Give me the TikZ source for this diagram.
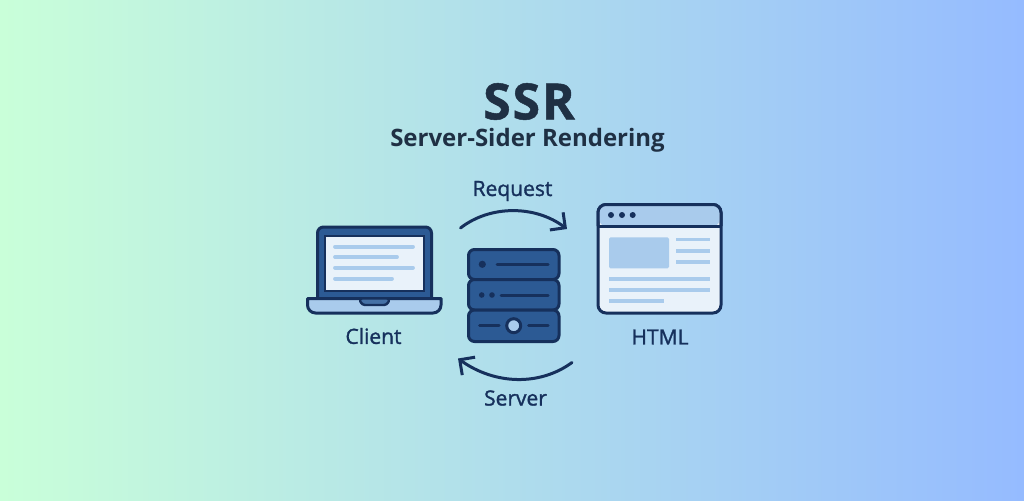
\documentclass[tikz,border=0pt]{standalone}
\usepackage{xcolor}
\usepackage{fontspec}
\setmainfont{Open Sans}
\newfontfamily\labelfont[FakeBold=1.4]{Open Sans}
\newfontfamily\titlefont[FakeBold=1,LetterSpace=3.5]{Open Sans Bold}
\usetikzlibrary{arrows.meta}
\definecolor{bgleft}{HTML}{C9FFD9}
\definecolor{bgright}{HTML}{95BBFF}
\definecolor{titleink}{HTML}{1F3044}
\definecolor{navy}{HTML}{16305C}
\definecolor{midblue}{HTML}{2C5A94}
\definecolor{paleblue}{HTML}{A9CBEC}
\definecolor{paper}{HTML}{E9F2FA}
\tikzset{
  outline/.style={draw=navy, line width=3pt, rounded corners=6pt},
  textline/.style={draw=paleblue, line width=3.6pt},
  roundline/.style={draw=paleblue, line width=3.8pt, line cap=round},
  rackline/.style={draw=navy, line width=3pt, line cap=round},
  flow/.style={draw=navy, line width=3pt, line cap=round, -{Straight Barb[length=11pt,width=22pt,line width=3pt]}},
  caption/.style={font=\labelfont\fontsize{21}{24}\selectfont, text=navy, inner sep=0pt, anchor=center}
}
\begin{document}
\begin{tikzpicture}[x=1pt, y=-1pt]
\useasboundingbox (0, 0) rectangle (1024, 500);
\shade[left color=bgleft, right color=bgright] (0, 0) rectangle (1024, 500);

% titles
\node[font=\titlefont\fontsize{50}{56}\selectfont, text=titleink, inner sep=0pt] (title) at (529, 101.5) {SSR};
\node[font=\bfseries\fontsize{24}{28}\selectfont, text=titleink, inner sep=0pt] (subtitle) at (527.5, 140) {Server-Sider Rendering};

% laptop
\draw[outline, fill=midblue] (317.5, 298) -- (317.5, 227) -- (431.5, 227) -- (431.5, 298);
\draw[draw=navy, line width=2.4pt, fill=paper] (325, 236) rectangle (424, 291);
\draw[roundline] (335, 246.7) -- (413, 246.7);
\draw[roundline] (335, 257) -- (397, 257);
\draw[roundline] (335, 267.7) -- (413, 267.7);
\draw[roundline] (335, 278.7) -- (392, 278.7);
\draw[draw=navy, line width=3pt, line join=round, fill=paleblue] (307.5, 298.5) -- (441, 298.5) [rounded corners=8pt] -- (441, 313) -- (307.5, 313) [sharp corners] -- cycle;
\draw[draw=navy, line width=2.4pt, fill=midblue!80!paleblue, rounded corners=3pt] (359, 298.5) -- (390, 298.5) -- (387, 305) -- (362, 305) -- cycle;
\node[caption] (client) at (373.5, 336) {Client};

% server
\draw[outline, fill=midblue] (468.5, 249.5) rectangle (559, 279.5);
\draw[outline, fill=midblue] (468.5, 279.5) rectangle (559, 310);
\draw[outline, fill=midblue] (468.5, 310) rectangle (559, 341.5);
\fill[navy] (482.3, 264.3) circle (3.6pt);
\draw[rackline] (497, 264.3) -- (548, 264.3);
\fill[navy] (481.7, 295) circle (2.8pt);
\fill[navy] (492, 295) circle (2.8pt);
\draw[rackline] (501, 295) -- (548, 295);
\draw[rackline] (479.5, 325.7) -- (499, 325.7);
\draw[rackline] (528.5, 325.7) -- (548, 325.7);
\draw[draw=navy, line width=3pt, fill=paleblue] (513.7, 325.7) circle (7pt);

% browser
\draw[outline, fill=paper, rounded corners=8pt] (598, 204.5) rectangle (721, 313);
\draw[draw=none, fill=paleblue, rounded corners=6.5pt] (599.3, 205.8) -- (719.7, 205.8) -- (719.7, 226) -- (599.3, 226) -- cycle;
\draw[draw=navy, line width=3pt, rounded corners=8pt] (598, 226) -- (598, 204.5) -- (721, 204.5) -- (721, 226);
\draw[draw=navy, line width=3pt] (598, 226) -- (721, 226);
\fill[navy] (611, 215) circle (3pt);
\fill[navy] (622, 215) circle (3pt);
\fill[navy] (632.7, 215) circle (3pt);
\fill[paleblue, rounded corners=1.5pt] (609, 237.3) rectangle (669, 268.3);
\draw[textline] (676, 239.3) -- (710, 239.3);
\draw[textline] (676, 251) -- (710, 251);
\draw[textline] (676, 262) -- (710, 262);
\draw[textline] (609, 278.7) -- (710, 278.7);
\draw[textline] (609, 290) -- (710, 290);
\draw[textline] (609, 301) -- (664, 301);
\node[caption] (html) at (660, 337) {HTML};

% arrows
\coordinate (reqstart) at (460.5, 228);
\coordinate (reqend) at (567, 229);
\coordinate (srvstart) at (572, 362.5);
\coordinate (srvend) at (458, 358.5);
\draw[flow] (reqstart) .. controls (490, 205) and (535, 205) .. (reqend);
\draw[flow] (srvstart) .. controls (540, 386) and (495, 385) .. (srvend);
\node[caption] (request) at (512.5, 191) {Request};
\node[caption] (server) at (515.5, 398) {Server};
\end{tikzpicture}
\end{document}
